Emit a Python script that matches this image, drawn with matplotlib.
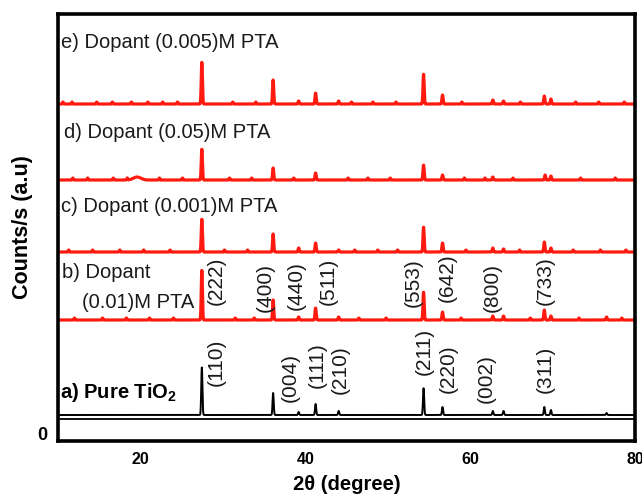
import numpy as np
import matplotlib.pyplot as plt

plt.rcParams['font.family'] = ['Liberation Sans', 'DejaVu Sans']
plt.rcParams['mathtext.fontset'] = 'custom'
plt.rcParams['mathtext.rm'] = 'Liberation Sans'
plt.rcParams['mathtext.bf'] = 'Liberation Sans:bold'

#
# peak lists: 2theta (deg) and height (a.u.)
#
# a) pure TiO2 (black)
pos_a = [27.45, 36.1, 39.2, 41.25, 44.05, 54.35, 56.65, 62.75, 64.05, 69.0, 69.8, 76.55]
hgt_a = [48, 22, 3, 11, 4, 27, 8, 4, 4, 8, 5, 2]

# b) 0.01 M PTA
pos_b = [27.45, 36.1, 39.2, 41.25, 44.05, 54.35, 56.65, 62.75, 64.05, 69.0, 69.8, 76.55]
hgt_b = [50, 20, 3, 12, 3, 28, 8, 4, 4, 10, 4, 3]

# c) 0.001 M PTA
pos_c = [27.45, 36.1, 39.2, 41.25, 44.05, 54.35, 56.65, 62.75, 64.05, 69.0, 69.8]
hgt_c = [33, 18, 4, 9, 2, 25, 9, 4, 3, 10, 4]

# d) 0.05 M PTA
pos_d = [19.6, 27.45, 36.1, 41.25, 54.35, 56.65, 62.75, 69.1, 69.8]
hgt_d = [3, 31, 12, 7, 15, 5, 3, 5, 4]

# e) 0.005 M PTA
pos_e = [27.45, 36.1, 39.2, 41.25, 44.05, 54.35, 56.65, 62.75, 64.05, 69.0, 69.8]
hgt_e = [42, 24, 3, 11, 3, 30, 9, 4, 3, 8, 5]

# small baseline spikes (noise) on the red patterns
noise_b = [12.0, 15.4, 18.3, 21.1, 24.0, 31.5, 33.8, 46.5, 49.8, 58.9, 67.3, 73.2, 78.4]
noise_c = [11.3, 14.2, 17.5, 20.4, 23.6, 30.2, 33.0, 46.0, 48.8, 51.2, 59.5, 66.0, 72.5, 75.8, 78.9]
noise_d = [11.8, 13.6, 16.7, 18.4, 22.3, 25.1, 30.8, 33.5, 38.6, 45.2, 47.6, 50.3, 59.3, 61.8, 65.2, 73.4, 77.6]
noise_e = [10.6, 11.7, 14.7, 16.6, 18.9, 20.9, 22.7, 24.5, 31.2, 34.0, 45.6, 48.2, 51.0, 59.0, 66.1, 72.8, 75.6, 78.7]

offsets = {'a': 26, 'b': 121, 'c': 189, 'd': 261, 'e': 337}

hkl_red = ['(222)', '(400)', '(440)', '(511)', '(553)', '(642)', '(800)', '(733)']
hkl_red_x = [29.2, 35.1, 38.9, 42.75, 53.1, 57.2, 62.65, 69.1]
hkl_red_y = [160, 154, 155, 160, 158, 163, 154, 160]

hkl_blk = ['(110)', '(004)', '(111)', '(210)', '(211)', '(220)', '(002)', '(311)']
hkl_blk_x = [29.2, 38.15, 41.45, 44.2, 54.4, 57.3, 61.9, 69.1]
hkl_blk_y = [79, 64, 76, 71, 90, 72, 62, 72]


tt = np.arange(10, 80.001, 0.02)


def pattern(pos, hgt, noise=(), sig=0.07):
    y = np.zeros_like(tt)
    for p, h in zip(pos, hgt):
        s = 0.45 if h <= 3 and p < 25 else sig
        y += h * np.exp(-0.5 * ((tt - p) / s) ** 2)
    for p in noise:
        y += 2.0 * np.exp(-0.5 * ((tt - p) / 0.05) ** 2)
    return y


fig = plt.figure(figsize=(6.42, 5.01), dpi=100)
ax = fig.add_axes([58 / 642, 1 - 441 / 501, 577 / 642, 427 / 501])

red = '#ff1a10'
ax.axhline(22, color='black', lw=1.3)
ax.plot(tt, pattern(pos_a, hgt_a) + offsets['a'], color='black', lw=1.4)
ax.plot(tt, pattern(pos_b, hgt_b, noise_b) + offsets['b'], color=red, lw=2.3)
ax.plot(tt, pattern(pos_c, hgt_c, noise_c) + offsets['c'], color=red, lw=2.3)
ax.plot(tt, pattern(pos_d, hgt_d, noise_d) + offsets['d'], color=red, lw=2.3)
ax.plot(tt, pattern(pos_e, hgt_e, noise_e) + offsets['e'], color=red, lw=2.3)

# sample labels
lab = dict(fontsize=14.5, color='#1a1a1a', ha='left', va='center')
ax.text(10.36, 398, 'e) Dopant (0.005)M PTA', **lab)
ax.text(10.7, 309, 'd) Dopant (0.05)M PTA', **lab)
ax.text(10.36, 234, 'c) Dopant (0.001)M PTA', **lab)
ax.text(10.5, 169, 'b) Dopant', **lab)
ax.text(12.9, 138, '(0.01)M PTA', **lab)
ax.text(10.24, 49, r'a) Pure TiO$_\mathbf{2}$', fontsize=14.5, fontweight='bold',
        color='black', ha='left', va='center')

# miller indices
for s, x, y in zip(hkl_red, hkl_red_x, hkl_red_y):
    ax.text(x, y, s, rotation=90, fontsize=15, color='#1a1a1a', ha='center', va='center')
for s, x, y in zip(hkl_blk, hkl_blk_x, hkl_blk_y):
    ax.text(x, y, s, rotation=90, fontsize=15, color='#1a1a1a', ha='center', va='center')

ax.set_xlim(10, 80)
ax.set_ylim(0, 427)
ax.set_xticks([20, 40, 60, 80])
ax.set_xticklabels(['20', '40', '60', '80'], fontweight='bold', fontsize=11.5)
ax.set_yticks([8])
ax.set_yticklabels(['0'], fontweight='bold', fontsize=13)
ax.tick_params(length=0, pad=8)
ax.tick_params(axis='x', pad=8)
for sp in ax.spines.values():
    sp.set_linewidth(2.6)

ax.set_xlabel('2θ (degree)', fontsize=14.5, fontweight='bold', labelpad=6)
ax.set_ylabel('Counts/s (a.u)', fontsize=15.5, fontweight='bold', labelpad=3)

fig.savefig('out.png', dpi=100)
